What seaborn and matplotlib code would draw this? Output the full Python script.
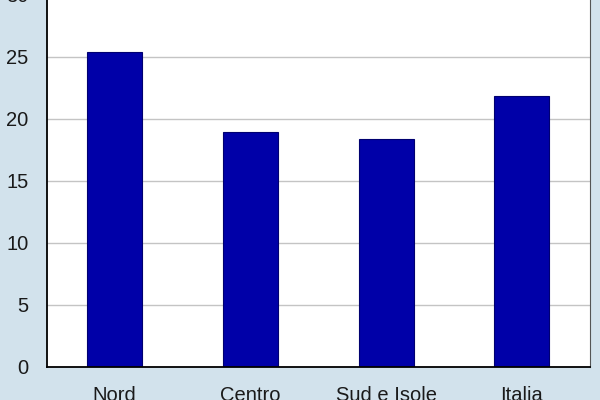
import matplotlib
matplotlib.use("Agg")
import matplotlib.pyplot as plt
import seaborn as sns
import pandas as pd

# data
regions = ["Nord", "Centro", "Sud e Isole", "Italia"]
values = [25.4, 18.95, 18.4, 21.85]
y_ticks = [0, 5, 10, 15, 20, 25, 30]

sns.set_style("white")
plt.rcParams["font.family"] = ["Liberation Sans", "DejaVu Sans"]

df = pd.DataFrame({"region": regions, "value": values})

fig = plt.figure(figsize=(6, 4), dpi=100)
fig.patch.set_facecolor("#D2E2EC")
ax = fig.add_axes([0.078, 0.0825, 0.905, 0.93])
ax.set_facecolor("white")

sns.barplot(
    data=df,
    x="region",
    y="value",
    color="#0000A8",
    saturation=1,
    width=0.405,
    edgecolor="#000070",
    linewidth=0.8,
    ax=ax,
)

ax.set_ylim(0, 30)
ax.set_xlim(-0.5, 3.5)
ax.set_yticks(y_ticks)
ax.yaxis.grid(True, color="#C4C4C4", linewidth=1)
ax.set_axisbelow(True)

for side in ["left", "bottom", "right", "top"]:
    ax.spines[side].set_visible(True)
    ax.spines[side].set_color("black")
ax.spines["left"].set_linewidth(1.3)
ax.spines["bottom"].set_linewidth(1.3)
ax.spines["right"].set_linewidth(0.8)
ax.spines["right"].set_color("#555555")

ax.tick_params(axis="both", length=0, labelsize=14.5, colors="#1a1a1a")
ax.tick_params(axis="y", pad=13)
ax.tick_params(axis="x", pad=14)
ax.set_xlabel("")
ax.set_ylabel("")

fig.savefig("out.png", dpi=100, facecolor=fig.get_facecolor())
